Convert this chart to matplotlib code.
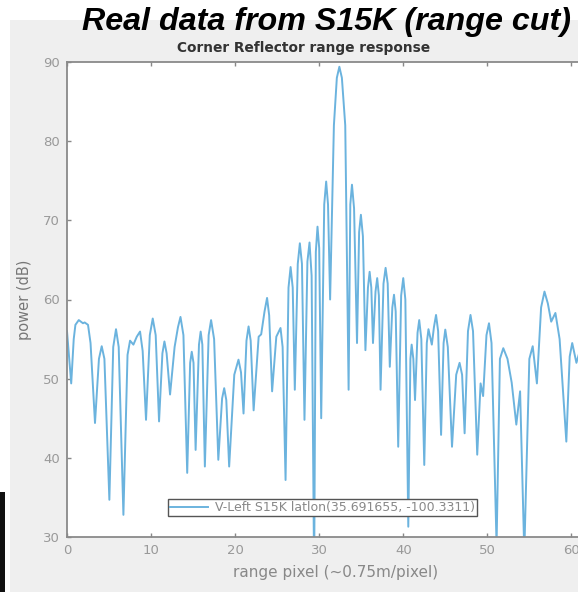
import matplotlib
matplotlib.use("Agg")
import matplotlib.pyplot as plt
from matplotlib.patches import Rectangle

# (range pixel, power dB) pairs: lobe peaks, shoulders and nulls
range_px = [0.0, 0.5, 0.8, 1.0, 1.4, 1.9, 2.1, 2.5, 2.8, 3.33, 3.8, 4.13, 4.45, 5.04, 5.5,
            5.83, 6.15, 6.71, 7.2, 7.5, 7.9, 8.3, 8.69, 9.0, 9.4, 9.85, 10.2, 10.55, 10.95,
            11.35, 11.59, 11.85, 12.26, 12.8, 13.2, 13.5, 13.85, 14.3, 14.65, 14.84, 15.05,
            15.3, 15.7, 15.9, 16.1, 16.4, 16.85, 17.14, 17.5, 18.0, 18.45, 18.7, 18.95,
            19.29, 19.9, 20.4, 20.7, 21.0, 21.35, 21.6, 21.85, 22.2, 22.8, 23.1, 23.5, 23.8,
            24.05, 24.4, 24.9, 25.4, 25.65, 26.0, 26.35, 26.6, 26.85, 27.1, 27.45, 27.7,
            27.95, 28.25, 28.6, 28.85, 29.1, 29.4, 29.6, 29.8, 30.0, 30.24, 30.6, 30.83,
            31.05, 31.3, 31.75, 32.1, 32.4, 32.7, 33.1, 33.5, 33.7, 33.9, 34.15, 34.5,
            34.75, 34.96, 35.2, 35.5, 35.8, 36.0, 36.2, 36.4, 36.7, 36.9, 37.1, 37.3,
            37.65, 37.9, 38.15, 38.4, 38.7, 38.9, 39.1, 39.4, 39.75, 40.0, 40.25, 40.6,
            40.85, 41.0, 41.2, 41.4, 41.7, 41.9, 42.15, 42.5, 42.8, 43.0, 43.4, 43.65, 43.9,
            44.15, 44.5, 44.8, 45.0, 45.3, 45.8, 46.3, 46.7, 47.0, 47.3, 47.7, 48.0, 48.3,
            48.8, 49.2, 49.5, 49.9, 50.2, 50.5, 51.1, 51.5, 51.9, 52.4, 52.9, 53.45, 53.9,
            54.4, 55.0, 55.4, 55.9, 56.4, 56.8, 57.2, 57.6, 58.1, 58.6, 59.4, 59.8, 60.1,
            60.6, 61.0, 61.5]
power_db = [56.0, 49.4, 55.0, 56.8, 57.4, 57.0, 57.1, 56.8, 54.5, 44.4, 52.5, 54.1, 52.5, 34.7, 54.0,
            56.25, 54.0, 32.8, 53.0, 54.8, 54.3, 55.3, 55.95, 53.5, 44.8, 55.5, 57.6, 55.5, 44.6,
            53.2, 54.7, 53.2, 48.0, 54.0, 56.5, 57.8, 55.5, 38.1, 52.0, 53.4, 52.0,
            41.0, 54.3, 55.95, 54.3, 38.9, 55.5, 57.4, 55.0, 39.75, 47.5, 48.8, 47.3,
            38.9, 50.5, 52.4, 50.8, 45.6, 54.8, 56.6, 54.8, 46.0, 55.3, 55.6, 58.5, 60.2,
            58.0, 48.4, 55.3, 56.4, 54.0, 37.2, 61.5, 64.1, 61.5, 48.6, 64.5, 67.1,
            64.5, 44.8, 64.8, 67.2, 63.0, 25.0, 66.0, 69.2, 66.5, 45.0, 72.0, 74.9,
            72.0, 60.0, 82.0, 88.0, 89.4, 88.0, 82.0, 48.6, 72.0, 74.5, 71.5, 54.5,
            68.5, 70.7, 68.0, 53.6, 61.5, 63.5, 61.5, 54.5, 61.0, 62.7, 60.5, 48.6,
            62.0, 64.0, 62.0, 51.5, 59.0, 60.6, 58.5, 41.4, 60.5, 62.7, 60.0, 31.3,
            52.5, 54.3, 52.5, 47.3, 55.8, 57.4, 55.0, 39.1, 54.5, 56.25, 54.3, 56.5, 58.05,
            56.0, 42.9, 54.5, 56.2, 54.0, 41.4, 50.5, 52.0, 50.5, 43.1, 56.0, 58.05, 56.0,
            40.4, 49.4, 47.8, 55.5, 57.0, 54.5, 29.0, 52.5, 53.85, 52.5, 49.5, 44.2, 48.4,
            28.0, 52.5, 54.1, 49.4, 59.0, 61.0, 59.5, 57.2, 58.3, 55.0, 42.05, 52.8, 54.5,
            52.0, 53.5, 50.0]

x_ticks = [0, 10, 20, 30, 40, 50, 60]
y_ticks = [30, 40, 50, 60, 70, 80, 90]
legend_label = "V-Left S15K latlon(35.691655, -100.3311)"

W, H = 578, 592
fig = plt.figure(figsize=(W / 100, H / 100), dpi=100, facecolor="white")

# grey figure panel and dark corner
fig.patches.append(Rectangle((10 / W, 0), 1, 1 - 20 / H, transform=fig.transFigure,
                             facecolor="#efefef", edgecolor="none", zorder=-5))
fig.patches.append(Rectangle((0, 0), 5 / W, 100 / H, transform=fig.transFigure,
                             facecolor="#111111", edgecolor="none", zorder=-5))

ax_left, ax_right, ax_top, ax_bottom = 67, 605, 62, 537
ax = fig.add_axes([ax_left / W, 1 - ax_bottom / H, (ax_right - ax_left) / W,
                   (ax_bottom - ax_top) / H])
ax.set_facecolor("white")
ax.plot(range_px, power_db, color="#6bb3de", lw=1.4, label=legend_label)
ax.set_xlim(0, 64)
ax.set_ylim(30, 90)
ax.set_xticks(x_ticks)
ax.set_yticks(y_ticks)
ax.tick_params(direction="in", length=3, width=1, colors="#888888", labelsize=9.5,
               top=True, right=True, labelcolor="#999999", pad=5)
for s in ax.spines.values():
    s.set_color("#8a8a8a")
    s.set_linewidth(1.3)

ax.set_xlabel("range pixel (~0.75m/pixel)", fontsize=11, color="#888888", labelpad=6)
ax.set_ylabel("power (dB)", fontsize=10.5, color="#777777", labelpad=8)

leg = ax.legend(loc="lower left", bbox_to_anchor=(0.188, 0.044), borderaxespad=0,
                fontsize=9, handlelength=3.0, fancybox=False, framealpha=1,
                edgecolor="#555555", borderpad=0.15, handletextpad=0.6)
for t in leg.get_texts():
    t.set_color("#888888")

fig.text(304 / W, 1 - 48 / H, "Corner Reflector range response", ha="center", va="center",
         fontsize=9.9, fontweight="bold", color="#333333")
fig.text(327 / W, 1 - 22 / H, "Real data from S15K (range cut)", ha="center", va="center",
         fontsize=23.2, fontweight="bold", fontstyle="italic",
         family="Liberation Sans", color="black")

fig.savefig("out.png", dpi=100, facecolor=fig.get_facecolor())
